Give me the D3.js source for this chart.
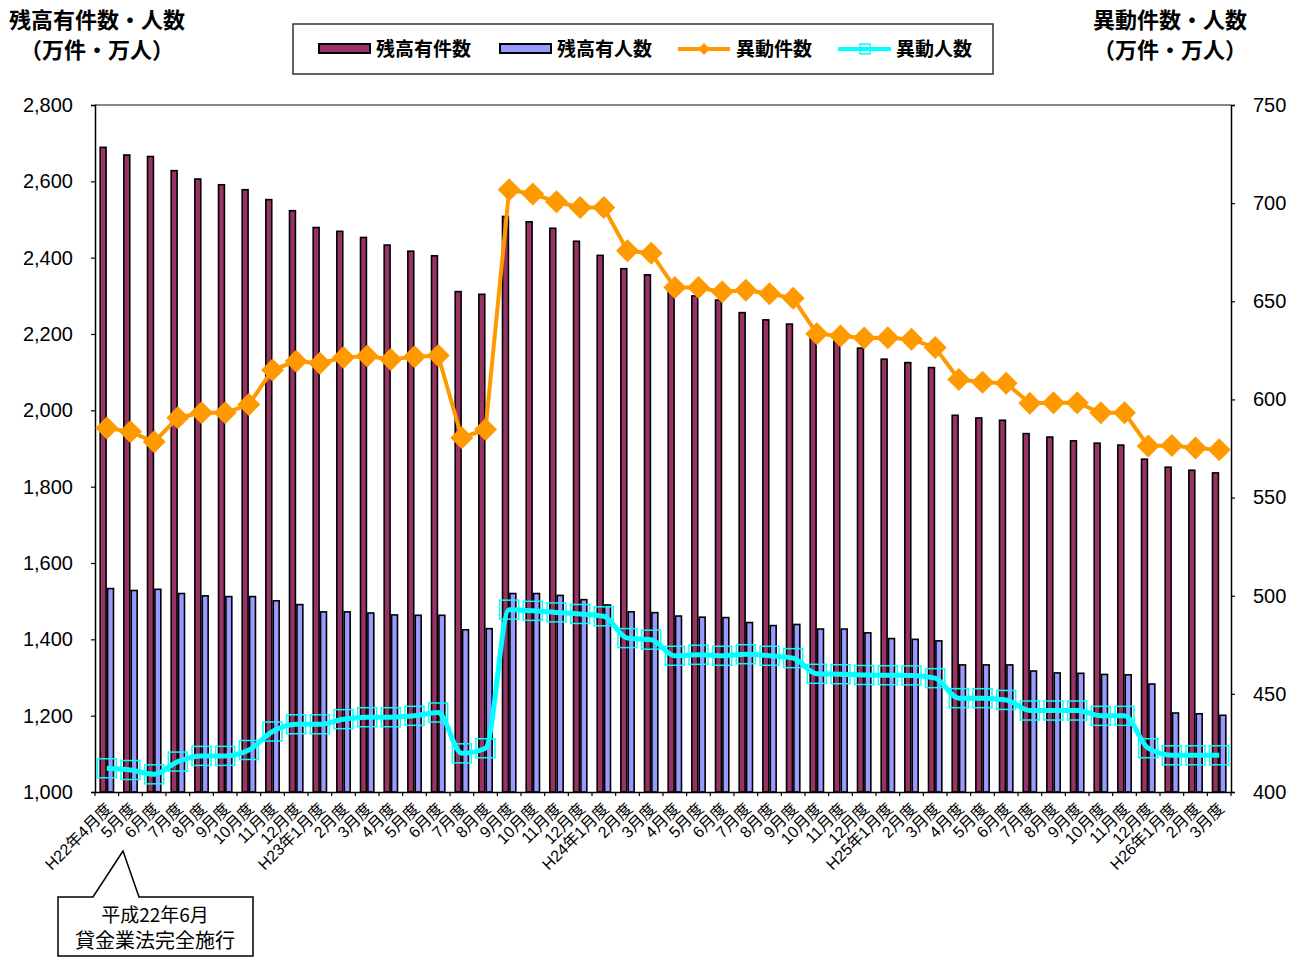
<!DOCTYPE html>
<html>
<head>
<meta charset="utf-8">
<script src="https://cdn.jsdelivr.net/npm/d3@7"></script>
<style>
  body { margin: 0; background: #fff; }
  svg { display: block; }
  text { font-family: "Liberation Sans", "Noto Sans CJK JP", sans-serif; }
  .jp { font-family: "Noto Sans CJK JP", sans-serif; }
</style>
</head>
<body>
<div id="chart"></div>
<script>
// months: H22/4 .. H26/3
var categories = ["H22年4月度","5月度","6月度","7月度","8月度","9月度","10月度","11月度","12月度",
  "H23年1月度","2月度","3月度","4月度","5月度","6月度","7月度","8月度","9月度","10月度","11月度","12月度",
  "H24年1月度","2月度","3月度","4月度","5月度","6月度","7月度","8月度","9月度","10月度","11月度","12月度",
  "H25年1月度","2月度","3月度","4月度","5月度","6月度","7月度","8月度","9月度","10月度","11月度","12月度",
  "H26年1月度","2月度","3月度"];

// 残高有件数 (万件) - left axis
var zandakaKensu = [2689,2669,2665,2628,2606,2591,2578,2552,2523,2479,
  2469,2453,2433,2417,2405,2311,2304,2508,2494,2477,
  2443,2406,2371,2355,2317,2300,2289,2256,2237,2226,
  2190,2181,2163,2134,2125,2112,1987,1980,1974,1939,
  1930,1920,1914,1909,1872,1851,1843,1836];

// 残高有人数 (万人) - left axis
var zandakaNinzu = [1533,1528,1531,1520,1514,1512,1512,1501,1491,1472,
  1472,1469,1464,1463,1463,1425,1428,1520,1520,1515,
  1504,1490,1472,1470,1461,1458,1457,1444,1436,1439,
  1427,1427,1417,1402,1400,1396,1333,1333,1333,1317,
  1312,1311,1308,1307,1283,1207,1205,1201];

// 異動件数 (万件) - right axis
var idoKensu = [585.5,583.5,578.4,590.7,593.2,593.2,597.4,615,619.5,618.4,
  621.3,622.1,620.4,621.8,622.4,580.5,584.7,706.8,704.6,700.7,
  697.8,697.8,675.7,674.5,657,657,654.8,655.6,653.9,651.5,
  633.5,632.3,631.3,631.4,630.6,626.4,610.2,608.8,608.2,598,
  598.3,598.3,593.2,593.2,576.3,576.5,575.3,574.3];

// 異動人数 (万人) - right axis
var idoNinzu = [412.1,411.2,409,415.5,418.4,418.4,421.4,430.8,434.5,434.5,
  437.1,438.1,438.1,438.8,440.5,419.7,422.3,492.9,492.3,491.5,
  490.7,489.5,478.4,477.6,469.4,469.9,469.4,470.2,469.4,468.2,
  460.2,460,459.6,459.5,459.4,458,447.8,447.8,446.9,441.5,
  441.5,441.5,438.8,438.8,422.3,418.7,418.7,418.7];

var leftTicks = [1000,1200,1400,1600,1800,2000,2200,2400,2600,2800];
var rightTicks = [400,450,500,550,600,650,700,750];

var W = 1297, H = 958;
var pL = 95, pR = 1231, pT = 105, pB = 792;

var svg = d3.select("#chart").append("svg")
    .attr("width", W)
    .attr("height", H);

var x = d3.scaleBand().domain(d3.range(categories.length)).range([pL, pR]);
var bw = x.bandwidth();
var x1 = d3.scaleBand().domain(["kensu","ninzu"]).range([bw / 2 - 7.4, bw / 2 + 7.4]);
var yL = d3.scaleLinear().domain([1000, 2800]).range([pB, pT]);
var yR = d3.scaleLinear().domain([400, 750]).range([pB, pT]);

// plot area top border
svg.append("line")
    .attr("x1", pL).attr("x2", pR).attr("y1", pT).attr("y2", pT)
    .attr("stroke", "#888").attr("stroke-width", 2);

// bars
var g = svg.append("g");
g.selectAll(".bk")
    .data(zandakaKensu)
    .enter().append("rect")
    .attr("x", function(d, i) { return x(i) + x1("kensu") + 0.75; })
    .attr("y", function(d) { return yL(d); })
    .attr("width", x1.bandwidth() - 1.5)
    .attr("height", function(d) { return pB - yL(d); })
    .attr("fill", "#993366").attr("stroke", "#000").attr("stroke-width", 1.6);

g.selectAll(".bn")
    .data(zandakaNinzu)
    .enter().append("rect")
    .attr("x", function(d, i) { return x(i) + x1("ninzu") + 0.75; })
    .attr("y", function(d) { return yL(d); })
    .attr("width", x1.bandwidth() - 1.5)
    .attr("height", function(d) { return pB - yL(d); })
    .attr("fill", "#9999ff").attr("stroke", "#000").attr("stroke-width", 1.6);

// axes
var axL = svg.append("g")
    .attr("transform", "translate(" + pL + ",0)")
    .call(d3.axisLeft(yL).tickValues(leftTicks).tickFormat(d3.format(",")).tickSize(4).tickPadding(18));
var axR = svg.append("g")
    .attr("transform", "translate(" + pR + ",0)")
    .call(d3.axisRight(yR).tickValues(rightTicks).tickSize(4).tickPadding(18));
[axL, axR].forEach(function(a) {
  a.select(".domain").attr("stroke", "#000").attr("stroke-width", 1.5);
  a.selectAll(".tick line").attr("stroke", "#000").attr("stroke-width", 1.2);
  a.selectAll(".tick text").attr("font-size", 20).attr("fill", "#000")
    .attr("font-family", "Liberation Sans, Arial, sans-serif");
});

var axB = svg.append("g")
    .attr("transform", "translate(0," + pB + ")")
    .call(d3.axisBottom(x).tickSize(0).tickFormat(function(i) { return categories[i]; }));
axB.select(".domain").attr("stroke", "#000").attr("stroke-width", 1.5);
axB.selectAll(".tick text")
    .attr("font-size", 16).attr("fill", "#000")
    .attr("text-anchor", "end")
    .attr("y", 0).attr("dy", "0.35em")
    .attr("transform", "translate(2,14) rotate(-45)");
// category boundary ticks
axB.selectAll(".bt")
    .data(d3.range(categories.length + 1))
    .enter().append("line")
    .attr("x1", function(i) { return i < categories.length ? x(i) : pR; })
    .attr("x2", function(i) { return i < categories.length ? x(i) : pR; })
    .attr("y1", 0).attr("y2", 4)
    .attr("stroke", "#000").attr("stroke-width", 1.2);

// 異動件数 line
var cx = function(d, i) { return x(i) + bw / 2; };
svg.append("path")
    .datum(idoKensu)
    .attr("fill", "none").attr("stroke", "#ff9900").attr("stroke-width", 4)
    .attr("d", d3.line().x(cx).y(function(d) { return yR(d); }));
svg.selectAll(".dk")
    .data(idoKensu)
    .enter().append("path")
    .attr("transform", function(d, i) { return "translate(" + cx(d, i) + "," + yR(d) + ")"; })
    .attr("d", "M0,-11.5L11.5,0L0,11.5L-11.5,0Z")
    .attr("fill", "#ff9900");

// 異動人数 line (smoothed)
svg.append("path")
    .datum(idoNinzu)
    .attr("fill", "none").attr("stroke", "#00ffff").attr("stroke-width", 5)
    .attr("d", d3.line().x(cx).y(function(d) { return yR(d); }).curve(d3.curveMonotoneX));
svg.selectAll(".sn")
    .data(idoNinzu)
    .enter().append("rect")
    .attr("x", function(d, i) { return cx(d, i) - 9.5; })
    .attr("y", function(d) { return yR(d) - 9.5; })
    .attr("width", 19).attr("height", 19)
    .attr("fill", "none").attr("stroke", "#00ffff").attr("stroke-width", 1.5);

// axis titles
var titles = [
  {t: "残高有件数・人数", x: 97, y: 28},
  {t: "（万件・万人）", x: 97, y: 58},
  {t: "異動件数・人数", x: 1170, y: 28},
  {t: "（万件・万人）", x: 1170, y: 58}
];
svg.selectAll(".ttl")
    .data(titles)
    .enter().append("text")
    .attr("class", "jp")
    .attr("x", function(d) { return d.x; })
    .attr("y", function(d) { return d.y; })
    .attr("text-anchor", "middle")
    .attr("font-size", 22).attr("font-weight", "bold")
    .text(function(d) { return d.t; });

// legend
var lg = svg.append("g");
lg.append("rect")
    .attr("x", 293).attr("y", 24).attr("width", 700).attr("height", 50)
    .attr("fill", "#fff").attr("stroke", "#333").attr("stroke-width", 1.5);
lg.append("rect").attr("x", 319).attr("y", 44).attr("width", 51).attr("height", 9)
    .attr("fill", "#993366").attr("stroke", "#000").attr("stroke-width", 2);
lg.append("rect").attr("x", 500).attr("y", 44).attr("width", 51).attr("height", 9)
    .attr("fill", "#9999ff").attr("stroke", "#000").attr("stroke-width", 2);
lg.append("line").attr("x1", 678).attr("x2", 730).attr("y1", 49).attr("y2", 49)
    .attr("stroke", "#ff9900").attr("stroke-width", 4);
lg.append("path").attr("d", "M704,43L710,49L704,55L698,49Z").attr("fill", "#ff9900");
lg.append("line").attr("x1", 838).attr("x2", 891).attr("y1", 49).attr("y2", 49)
    .attr("stroke", "#00ffff").attr("stroke-width", 4);
lg.append("rect").attr("x", 860).attr("y", 44).attr("width", 10).attr("height", 10)
    .attr("fill", "none").attr("stroke", "#00ffff").attr("stroke-width", 1.5);
var legendItems = [
  {t: "残高有件数", x: 376},
  {t: "残高有人数", x: 557},
  {t: "異動件数", x: 736},
  {t: "異動人数", x: 896}
];
lg.selectAll(".lt")
    .data(legendItems)
    .enter().append("text")
    .attr("class", "jp")
    .attr("x", function(d) { return d.x; })
    .attr("y", 56)
    .attr("font-size", 19).attr("font-weight", "bold")
    .text(function(d) { return d.t; });

// callout
svg.append("path")
    .attr("d", "M58,897L93,897L123,851L139,897L253,897L253,956L58,956Z")
    .attr("fill", "#fff").attr("stroke", "#000").attr("stroke-width", 1.5);
svg.append("text").attr("class", "jp")
    .attr("x", 155).attr("y", 922).attr("text-anchor", "middle").attr("font-size", 19)
    .text("平成22年6月");
svg.append("text").attr("class", "jp")
    .attr("x", 155).attr("y", 948).attr("text-anchor", "middle").attr("font-size", 20)
    .text("貸金業法完全施行");
</script>
</body>
</html>
